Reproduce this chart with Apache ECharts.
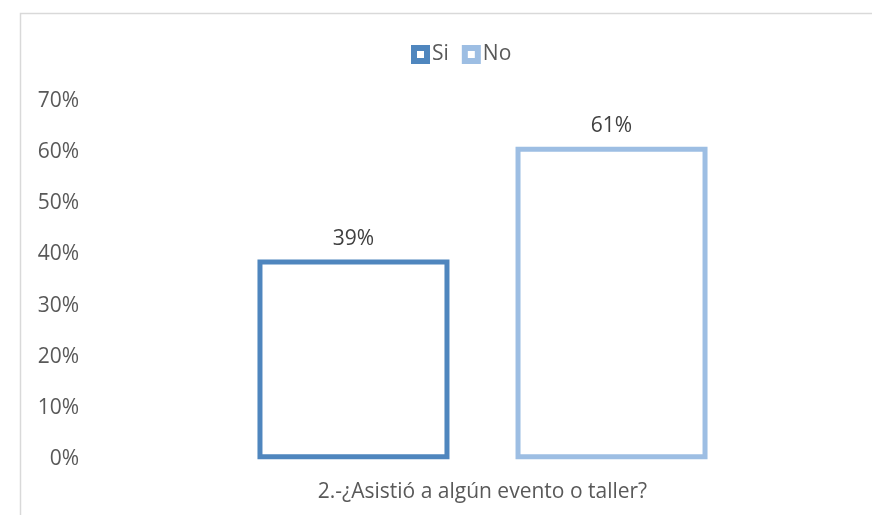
<!DOCTYPE html>
<html>
<head>
<meta charset="utf-8">
<script src="https://cdn.jsdelivr.net/npm/echarts@6/dist/echarts.min.js"></script>
<style>
html,body{margin:0;padding:0;background:#fff;}
#chart{width:872px;height:515px;}
</style>
</head>
<body>
<div id="chart"></div>
<script>
var categories = ['2.-¿Asistió a algún evento o taller?'];
var seriesNames = ['Si', 'No'];
var siValues = [0.39];
var noValues = [0.61];
var yTicks = [0, 0.1, 0.2, 0.3, 0.4, 0.5, 0.6, 0.7];

var font = '"Open Sans", "Noto Sans", sans-serif';
var siColor = '#4f86be';
var noColor = '#9dbee3';
var fs = 21;
var frameIcon = 'path://M0,0H19V19H0Z M6,6V13H13V6Z';

var chart = echarts.init(document.getElementById('chart'), null, {renderer: 'canvas'});
chart.setOption({
  animation: false,
  backgroundColor: '#fff',
  graphic: [{
    type: 'rect',
    shape: {x: 20.5, y: 13.5, width: 900, height: 600},
    style: {fill: 'none', stroke: '#d9d9d9', lineWidth: 1.5},
    silent: true
  }],
  legend: {
    top: 43,
    left: 411,
    padding: 0,
    itemWidth: 19,
    itemHeight: 19,
    itemGap: 13,
    textStyle: {fontFamily: font, fontSize: fs, lineHeight: 21, color: '#595959', padding: [2, 0, 0, -3]},
    data: [
      {name: seriesNames[0], icon: frameIcon, itemStyle: {color: siColor, borderWidth: 0}},
      {name: seriesNames[1], icon: frameIcon, itemStyle: {color: noColor, borderWidth: 0}}
    ]
  },
  grid: {left: 95, right: 2, top: 100.7, bottom: 55.8, containLabel: false},
  xAxis: {
    type: 'category',
    data: categories,
    axisLine: {show: false},
    axisTick: {show: false},
    axisLabel: {fontFamily: font, fontSize: fs, color: '#595959', margin: 22}
  },
  yAxis: {
    type: 'value',
    min: yTicks[0],
    max: yTicks[yTicks.length - 1],
    interval: 0.1,
    splitLine: {show: false},
    axisLine: {show: false},
    axisTick: {show: false},
    axisLabel: {
      fontFamily: font, fontSize: fs, lineHeight: 21, color: '#595959', margin: 16, padding: [6, 0, 0, 0],
      formatter: function (v) { return Math.round(v * 100) + '%'; }
    }
  },
  series: [
    {
      name: seriesNames[0], type: 'bar', data: siValues,
      barWidth: 192, barGap: '34.4%',
      itemStyle: {color: '#fff', borderColor: siColor, borderWidth: 5},
      label: {show: true, position: 'top', distance: 10, fontFamily: font, fontSize: fs, color: '#404040',
        formatter: function (p) { return Math.round(p.value * 100) + '%'; }}
    },
    {
      name: seriesNames[1], type: 'bar', data: noValues,
      barWidth: 192,
      itemStyle: {color: '#fff', borderColor: noColor, borderWidth: 5},
      label: {show: true, position: 'top', distance: 10, fontFamily: font, fontSize: fs, color: '#404040',
        formatter: function (p) { return Math.round(p.value * 100) + '%'; }}
    }
  ]
});
</script>
</body>
</html>
